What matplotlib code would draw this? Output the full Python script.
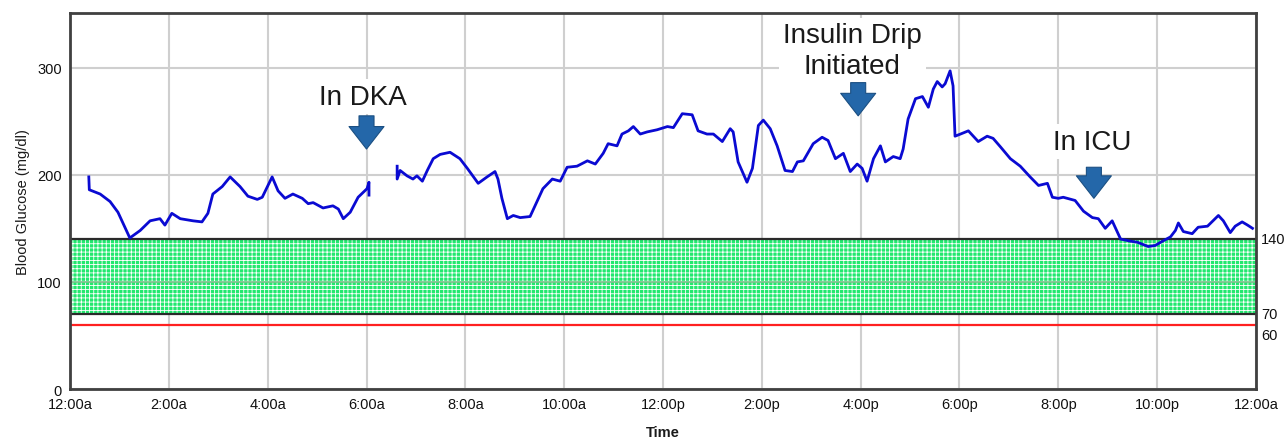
import numpy as np
import matplotlib.pyplot as plt
import matplotlib as mpl

mpl.rcParams['font.family'] = ['Liberation Sans', 'DejaVu Sans']
mpl.rcParams['hatch.color'] = 'white'
mpl.rcParams['hatch.linewidth'] = 0.6

# glucose trace, hours since midnight -> mg/dl (two sensor segments)
hours_a = [0.38, 0.39, 0.61, 0.81, 0.97, 1.21, 1.42, 1.62, 1.82, 1.92, 2.06, 2.23,
           2.49, 2.67, 2.79, 2.89, 3.08, 3.24, 3.44, 3.60, 3.79, 3.89, 4.09, 4.21,
           4.35, 4.51, 4.70, 4.82, 4.92, 5.12, 5.32, 5.43, 5.53, 5.67, 5.83, 6.01,
           6.05, 6.05]
gluc_a = [198, 186, 182, 175, 165, 141, 148, 157, 159, 153, 164, 159,
          157, 156, 164, 182, 189, 198, 189, 180, 177, 179, 198, 185,
          178, 182, 178, 173, 174, 169, 171, 168, 159, 165, 179, 187,
          193, 181]

hours_b = [6.62, 6.62, 6.68, 6.82, 6.94, 7.02, 7.13, 7.23, 7.35, 7.49, 7.69, 7.89,
           8.04, 8.26, 8.44, 8.60, 8.66, 8.74, 8.85, 8.97, 9.11, 9.31, 9.45, 9.57,
           9.76, 9.92, 10.06, 10.26, 10.47, 10.63, 10.79, 10.89, 11.07, 11.17, 11.30,
           11.40, 11.54, 11.68, 11.88, 12.09, 12.21, 12.39, 12.59, 12.71, 12.89, 13.02,
           13.20, 13.36, 13.42, 13.52, 13.70, 13.81, 13.93, 14.03, 14.17, 14.31, 14.47,
           14.62, 14.72, 14.84, 15.04, 15.22, 15.34, 15.49, 15.65, 15.79, 15.93, 16.03,
           16.13, 16.26, 16.40, 16.50, 16.66, 16.80, 16.86, 16.96, 17.11, 17.25, 17.37,
           17.47, 17.55, 17.65, 17.71, 17.81, 17.87, 17.91, 18.02, 18.18, 18.28, 18.38,
           18.56, 18.68, 18.83, 19.03, 19.23, 19.43, 19.60, 19.78, 19.88, 20.00, 20.10,
           20.34, 20.51, 20.69, 20.81, 20.95, 21.09, 21.26, 21.46, 21.60, 21.82, 21.96,
           22.11, 22.27, 22.37, 22.43, 22.53, 22.71, 22.83, 23.02, 23.24, 23.34, 23.48,
           23.58, 23.72, 23.83, 23.93]
gluc_b = [208, 196, 204, 199, 196, 199, 194, 204, 215, 219, 221, 215,
          206, 192, 198, 203, 196, 178, 159, 162, 160, 161, 175, 187,
          196, 194, 207, 208, 213, 210, 220, 229, 227, 238, 241,
          245, 238, 240, 242, 245, 244, 257, 256, 241, 238, 238,
          231, 243, 240, 212, 193, 206, 246, 251, 243, 227, 204,
          203, 212, 213, 229, 235, 232, 215, 220, 203, 210, 206,
          194, 215, 227, 212, 217, 215, 224, 252, 271, 273, 263,
          280, 287, 282, 285, 297, 283, 236, 238, 241, 236, 231,
          236, 234, 226, 215, 208, 198, 190, 192, 179, 178, 179,
          176, 166, 160, 159, 150, 157, 140, 138, 137, 133, 134,
          138, 142, 148, 155, 147, 145, 151, 152, 162, 157, 146,
          152, 156, 153, 150]

tick_hours = list(range(0, 25, 2))
tick_labels = ['12:00a', '2:00a', '4:00a', '6:00a', '8:00a', '10:00a', '12:00p',
               '2:00p', '4:00p', '6:00p', '8:00p', '10:00p', '12:00a']
target_low, target_high, hypo = 70, 140, 60

# (text, text x, text y, arrow x, arrow top, arrow tip)
events = [('In DKA', 5.92, 273, 6.0, 255, 224),
          ('Insulin Drip\nInitiated', 15.83, 316, 15.95, 286, 255),
          ('In ICU', 20.68, 231, 20.72, 207, 178)]

fig = plt.figure(figsize=(12.85, 4.39), dpi=100)
ax = fig.add_axes([0.0545, 0.1116, 0.9229, 0.8565])

ax.set_xlim(0, 24)
ax.set_ylim(0, 351)
ax.set_xticks(tick_hours)
ax.set_xticklabels(tick_labels)
ax.set_yticks([0, 100, 200, 300])
ax.tick_params(length=0, labelsize=10.5, pad=6, colors='#111111')
ax.grid(True, color='#cfcfcf', linewidth=1.5)
ax.set_axisbelow(True)
for s in ax.spines.values():
    s.set_color('#404040')
    s.set_linewidth(2)

ax.fill_between([0, 24], target_low, target_high, facecolor='#22e86e',
                hatch='++++', edgecolor='white', linewidth=0, zorder=1.5)
ax.axhline(target_high, color='#2a2a2a', lw=1.6, zorder=2)
ax.axhline(target_low, color='#2a2a2a', lw=1.6, zorder=2)
ax.axhline(100, color='#7cbf8c', lw=1.2, zorder=1.6)
ax.axhline(hypo, color='#ff2020', lw=1.6, zorder=2)

ax.text(24.1, target_high, str(target_high), va='center', ha='left', fontsize=10.5, color='#111111')
ax.text(24.1, target_low, str(target_low), va='center', ha='left', fontsize=10.5, color='#111111')
ax.text(24.1, hypo - 3, str(hypo), va='top', ha='left', fontsize=10.5, color='#111111')

ax.plot(hours_a, gluc_a, color='#0a0ad2', lw=2.0, zorder=4)
ax.plot(hours_b, gluc_b, color='#0a0ad2', lw=2.0, zorder=4)

for label, tx, ty, axx, a0, a1 in events:
    ax.text(tx, ty, label, ha='center', va='center', fontsize=20, color='#1a1a1a',
            linespacing=1.22, zorder=5,
            bbox=dict(facecolor='white', edgecolor='none', pad=3))
    ax.annotate('', xy=(axx, a1), xytext=(axx, a0), zorder=5,
                arrowprops=dict(arrowstyle='simple,head_length=0.9,head_width=1.4,tail_width=0.6',
                                mutation_scale=18, facecolor='#2467a9', edgecolor='#1b4f82', lw=0.8,
                                shrinkA=0, shrinkB=0))

ax.set_ylabel('Blood Glucose (mg/dl)', fontsize=10.5, color='#1a1a1a', labelpad=5)
ax.set_xlabel('Time', fontsize=10.5, color='#1a1a1a', labelpad=10, fontweight='bold')

fig.savefig('out.png', dpi=100)
